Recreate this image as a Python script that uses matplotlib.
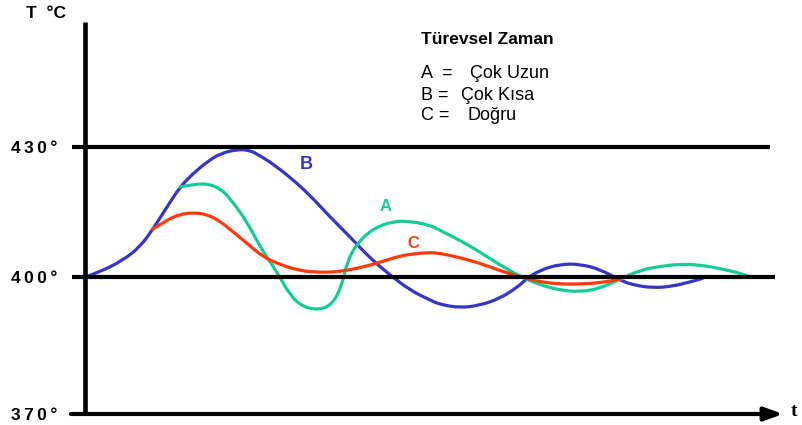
import matplotlib.pyplot as plt
from matplotlib.path import Path
from matplotlib.patches import PathPatch

# B = Çok Kısa (blue)
t_b = [0, 1.5, 3.8, 5.5, 6.8, 8.2, 9.5, 10.8, 12.2, 13.5, 15.2, 16.5, 17.5, 18.5,
       20.5, 22.5, 24.5, 26.5, 28.5, 30.5, 32.5, 34.5, 35.5, 37.5, 39.5, 41.5,
       43.2, 44.2, 45.5, 47.5, 49.5, 51.5, 53.5, 54.8, 56.8, 58.8, 60.5, 61.5, 62.0]
T_b = [400, 401.2, 403.9, 407.0, 411.1, 416.2, 420.8, 423.9, 426.6, 428.5, 429.5,
       429.3, 428.0, 426.6, 423.1, 418.9, 413.9, 409.3, 404.4, 400.5, 397.0, 394.7,
       393.7, 392.9, 393.5, 395.1, 397.6, 399.7, 401.6, 403.0, 403.0, 401.8, 399.3,
       398.2, 397.5, 397.9, 398.9, 399.5, 400]

# A = Çok Uzun (green)
t_a = [9.5, 10.8, 12.2, 13.5, 14.5, 16.2, 17.5, 19.2, 20.5, 21.8, 23.5, 24.8, 25.7,
       26.2, 27.2, 28.8, 30.8, 32.5, 34.5, 35.5, 37.5, 39.5, 41.5, 43.5, 45.5, 47.5,
       49.5, 51.5, 53.5, 55.5, 57.5, 59.5, 61.5, 63.5, 65.5, 66.5]
T_a = [420.8, 421.4, 421.6, 420.5, 418.2, 412.8, 407.0, 401.2, 395.8, 393.1, 392.4,
       393.9, 398.2, 403.5, 407.8, 411.2, 412.9, 412.9, 412.0, 410.8, 408.5, 405.8,
       402.8, 400.2, 398.2, 397.0, 396.6, 397.4, 399.5, 401.6, 402.5, 403.0, 402.8,
       402.0, 400.9, 400.1]

# C = Doğru (red)
t_c = [6.8, 8.2, 9.5, 10.8, 12.2, 13.5, 14.8, 16.2, 17.8, 19.2, 21.2, 23.2, 25.2,
       27.2, 29.2, 31.2, 32.5, 34.5, 35.5, 37.5, 39.5, 41.5, 43.5, 45.5, 47.5, 49.5,
       51.5, 53.5]
T_c = [411.1, 413.2, 414.5, 414.9, 414.5, 412.9, 410.5, 407.8, 404.7, 403.2, 401.6,
       401.1, 401.2, 402.0, 403.2, 404.7, 405.3, 405.7, 405.5, 404.5, 403.2, 401.5,
       400.1, 398.9, 398.4, 398.4, 398.7, 399.5]

ref_lines = [400, 430]
tick_vals = [368.4, 400, 430]
tick_labels = ['370°', '400°', '430°']

legend_keys = ['A  =', 'B =', 'C =']
legend_names = ['Çok Uzun', 'Çok Kısa', 'Doğru']

blue = '#3535c8'
green = '#14cc9a'
red = '#ff3a0a'

plt.rcParams['font.family'] = ['Liberation Sans', 'DejaVu Sans']


def smooth_line(ax, xs, ys, color):
    # quadratic bezier through midpoints, read points used as control points
    verts = [(xs[0], ys[0])]
    codes = [Path.MOVETO]
    for i in range(1, len(xs) - 1):
        verts.append((xs[i], ys[i]))
        verts.append(((xs[i] + xs[i + 1]) / 2, (ys[i] + ys[i + 1]) / 2))
        codes += [Path.CURVE3, Path.CURVE3]
    verts.append((xs[-1], ys[-1]))
    codes.append(Path.LINETO)
    ax.add_patch(PathPatch(Path(verts, codes), facecolor='none', edgecolor=color,
                           lw=2.3, joinstyle='round', capstyle='round', clip_on=False))


fig = plt.figure(figsize=(8.02, 4.25), dpi=100)
ax = fig.add_axes([85 / 802, 1 - 414 / 425, 698 / 802, 392 / 425])
ax.set_xlim(0, 69.8)
ax.set_ylim(368.4, 458.9)
for s in ax.spines.values():
    s.set_visible(False)
ax.set_xticks([])
ax.set_yticks(tick_vals)
ax.set_yticklabels(['\u2009'.join(lbl) for lbl in tick_labels], fontsize=12.5, fontweight='bold')
ax.tick_params(axis='y', length=0, pad=20)

# axes & reference lines
ax.plot([0, 0], [368.4, 458.9], color='black', lw=3.3, clip_on=False, solid_capstyle='butt')
ax.hlines(430, -1.3, 68.5, color='black', lw=3.0, clip_on=False)
ax.hlines(400, -1.3, 69.0, color='black', lw=3.0, clip_on=False)
ax.annotate('', xy=(69.8, 368.4), xytext=(-1.4, 368.4),
            arrowprops=dict(arrowstyle='-|>,head_length=0.55,head_width=0.2',
                            color='black', lw=3.0, mutation_scale=20,
                            shrinkA=0, shrinkB=0),
            annotation_clip=False)

smooth_line(ax, t_b, T_b, blue)
smooth_line(ax, t_a, T_a, green)
smooth_line(ax, t_c, T_c, red)

ax.text(22.1, 426.1, 'B', color=blue, fontsize=13, fontweight='bold', ha='center', va='center')
ax.text(30.1, 416.2, 'A', color=green, fontsize=12, fontweight='bold', ha='center', va='center')
ax.text(32.8, 407.8, 'C', color=red, fontsize=12, fontweight='bold', ha='center', va='center')

fig.text(26 / 802, 1 - 14 / 425, 'T  °C', fontsize=12.5, fontweight='bold', va='center')
fig.text(791 / 802, 1 - 411 / 425, 't', fontsize=14, fontweight='bold',
         family='Liberation Serif', va='center')

fig.text(421 / 802, 1 - 39 / 425, 'Türevsel Zaman', fontsize=12.5, fontweight='bold', va='center')
name_x = [470, 461, 468]
for i, (k, n) in enumerate(zip(legend_keys, legend_names)):
    y = 1 - (74 + 21 * i) / 425
    fig.text(421 / 802, y, k, fontsize=13, va='center')
    fig.text(name_x[i] / 802, y, n, fontsize=13, va='center')

fig.savefig('out.png', dpi=100)
